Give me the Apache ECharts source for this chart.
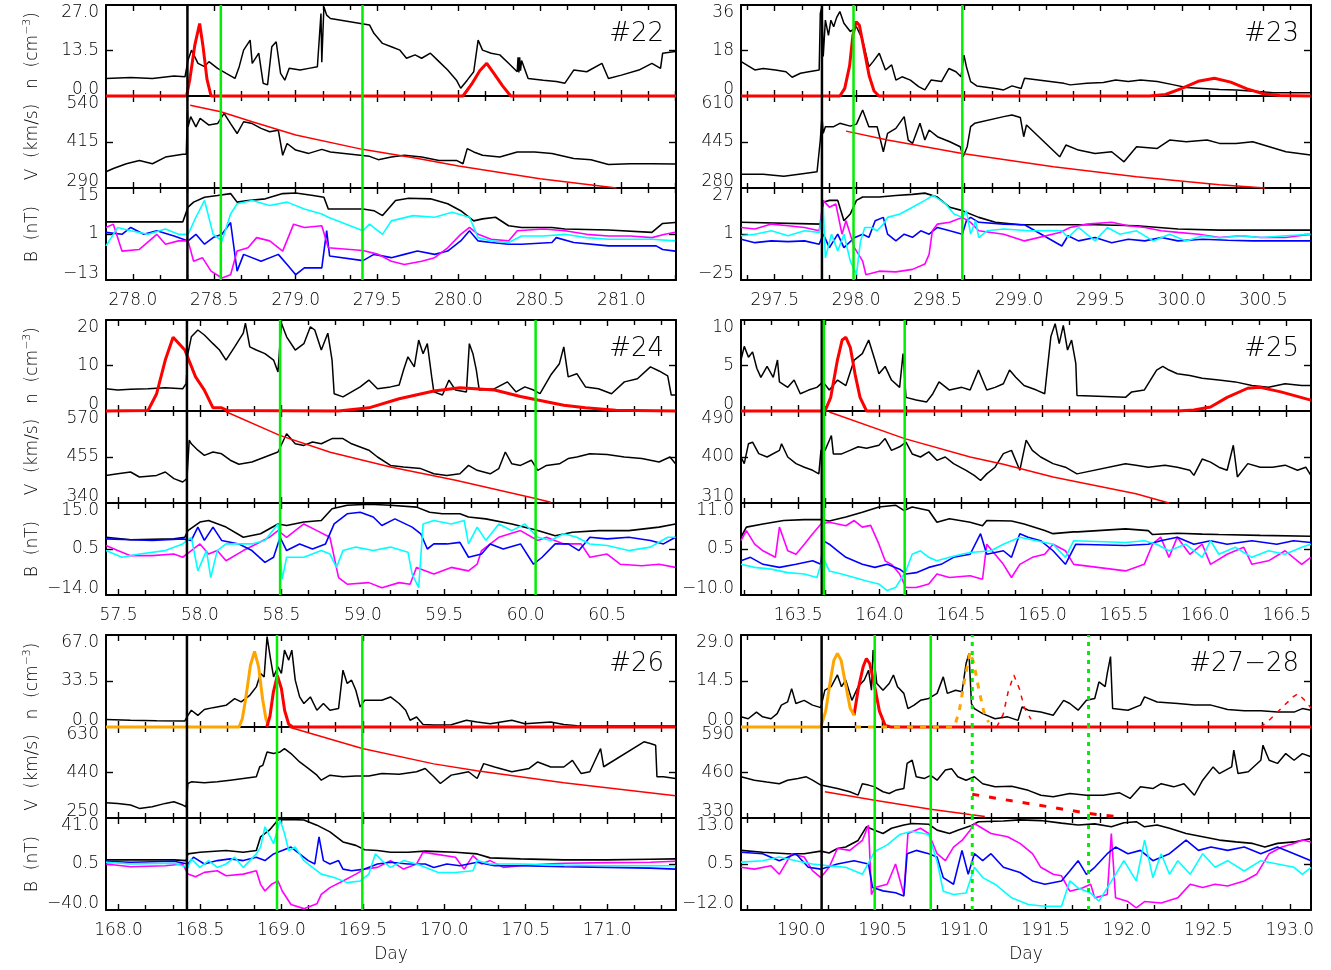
<!DOCTYPE html>
<html><head><meta charset="utf-8">
<script src="https://cdn.jsdelivr.net/npm/echarts@6.0.0/dist/echarts.min.js"></script>
<style>html,body{margin:0;padding:0;background:#fff;}#c{width:1331px;height:970px;}</style>
</head><body><div id="c"></div>
<script>
// ---------------- Panel #22 ----------------
const range22 = [277.835, 281.335];
const ticks22 = [278.0, 278.5, 279.0, 279.5, 280.0, 280.5, 281.0];
const shock22 = 278.335;
const green22 = [278.54, 279.41];
const n22 = [[277.835,5.2],[277.987,5.5],[278.12,5.2],[278.253,5.9],[278.32,5.7],[278.339,10.7],[278.36,13.6],[278.4,9.7],[278.44,8.7],[278.467,10.2],[278.52,8.2],[278.573,6.7],[278.627,5.2],[278.653,8.7],[278.68,13.6],[278.72,16.6],[278.733,9.7],[278.773,12.7],[278.8,3.8],[278.827,3.3],[278.853,14.6],[278.88,16.1],[278.907,6.7],[278.933,4.7],[278.96,8.2],[279.027,7.7],[279.08,8.2],[279.133,8.7],[279.155,24.5],[279.16,10],[279.173,26.5],[279.19,24],[279.213,23],[279.453,21.1],[279.48,18.6],[279.533,15.6],[279.587,14.6],[279.64,13.6],[279.68,11.2],[279.733,12.2],[279.773,11.2],[279.827,12.7],[279.88,10.2],[279.933,7.7],[279.987,4.7],[280.013,2.3],[280.053,4.7],[280.093,7.2],[280.12,16.6],[280.147,13.6],[280.2,12.7],[280.253,12.2],[280.307,9.7],[280.36,7.2],[280.365,11.5],[280.37,7.0],[280.375,11.5],[280.38,7.5],[280.387,10.5],[280.427,5.2],[280.52,4.7],[280.6,4.3],[280.653,3.8],[280.707,7.7],[280.787,7.2],[280.88,9.7],[280.92,5.2],[281.0,6.2],[281.107,7.7],[281.187,9.7],[281.24,8.2],[281.253,12.7],[281.33,13.2]];
const nFit22 = [[277.835,0],[278.33,0],[278.35,5],[278.38,15],[278.41,21.5],[278.43,15],[278.455,5],[278.48,0],[280.027,0],[280.08,3.5],[280.13,7.5],[280.173,9.7],[280.22,6.5],[280.27,3],[280.32,0],[281.335,0]];
const v22 = [[277.835,334],[277.88,343],[277.96,356],[278.04,365],[278.12,356],[278.2,374],[278.307,382],[278.328,382],[278.335,502],[278.339,456],[278.355,484],[278.387,456],[278.413,479],[278.467,461],[278.52,465],[278.56,493],[278.6,465],[278.64,438],[278.68,470],[278.733,465],[278.787,452],[278.84,443],[278.893,447],[278.92,379],[278.947,411],[279.0,393],[279.08,384],[279.16,395],[279.213,388],[279.453,376],[279.507,367],[279.587,374],[279.667,379],[279.773,374],[279.88,365],[279.987,365],[280.027,356],[280.053,397],[280.093,388],[280.147,379],[280.253,374],[280.36,388],[280.467,388],[280.573,384],[280.707,370],[280.813,367],[280.92,354],[281.053,356],[281.187,356],[281.33,355]];
const vFit22 = [[278.352,515],[278.54,497],[278.733,470],[279.0,434],[279.41,395],[279.75,370],[280.0,350],[280.5,315],[280.97,290]];
const bt22 = [[277.835,4.7],[278.307,4.7],[278.339,9.2],[278.373,10.7],[278.44,12.2],[278.52,12.7],[278.6,13.3],[278.64,10.7],[278.707,11.2],[278.813,11.7],[278.92,13.3],[279.0,13.5],[279.107,12.7],[279.173,12.2],[279.2,8.6],[279.413,8.6],[279.48,8.1],[279.533,6.6],[279.613,11.2],[279.693,11.9],[279.827,11.7],[279.933,10.2],[280.013,8.1],[280.093,5.0],[280.147,5.6],[280.227,6.1],[280.307,3.5],[280.387,3.0],[280.573,3.0],[280.653,2.5],[280.92,2.2],[281.187,1.5],[281.253,4.2],[281.33,4.5]];
const bBlue22 = [[277.835,1.5],[277.933,0.9],[277.987,3.0],[278.067,0.9],[278.147,2.0],[278.253,0.4],[278.339,-1.1],[278.387,0.9],[278.44,-2.1],[278.493,-0.1],[278.547,0.9],[278.6,4.5],[278.64,-10.3],[278.68,-5.2],[278.787,-7.3],[278.893,-5.2],[278.947,-8.3],[279.0,-11.4],[279.053,-9.3],[279.16,-9.3],[279.19,2.0],[279.208,-5.7],[279.413,-7.1],[279.48,-5.2],[279.587,-6.2],[279.667,-5.2],[279.747,-4.2],[279.853,-5.2],[279.933,-4.2],[280.013,-1.1],[280.067,2.0],[280.12,-1.1],[280.2,-1.6],[280.307,-2.1],[280.387,-2.1],[280.573,-1.6],[280.6,-0.1],[280.707,-1.6],[280.92,-2.6],[281.053,-2.6],[281.213,-2.6],[281.253,-3.7],[281.33,-4.2]];
const bCyan22 = [[277.835,-2.6],[277.907,3.0],[277.987,2.0],[278.093,0.9],[278.2,2.5],[278.28,0.9],[278.339,0.9],[278.387,6.1],[278.44,11.2],[278.493,0.9],[278.547,-1.1],[278.6,7.1],[278.64,10.2],[278.733,11.2],[278.84,9.7],[278.947,10.7],[279.053,8.6],[279.16,7.1],[279.2,6.1],[279.413,2.0],[279.453,4.0],[279.533,0.9],[279.587,5.0],[279.72,6.6],[279.853,6.1],[279.96,7.6],[280.067,6.1],[280.12,-0.1],[280.2,-1.1],[280.307,-1.6],[280.387,0.4],[280.52,0.4],[280.653,0.9],[280.787,-0.1],[280.92,-0.6],[281.187,-0.6],[281.33,-1.1]];
const bMag22 = [[277.835,3.0],[277.88,4.0],[277.933,-4.2],[278.04,-3.7],[278.147,0.9],[278.2,-2.1],[278.28,-1.1],[278.339,-1.1],[278.373,-7.3],[278.427,-6.2],[278.48,-10.3],[278.547,-12.4],[278.6,-11.4],[278.64,-4.2],[278.707,-3.2],[278.76,-0.1],[278.84,-1.1],[278.92,-4.2],[278.987,4.0],[279.053,3.0],[279.16,3.5],[279.2,-3.2],[279.413,-4.0],[279.507,-5.2],[279.587,-7.3],[279.667,-8.3],[279.773,-7.3],[279.853,-6.2],[279.933,-3.2],[280.013,0.9],[280.067,3.0],[280.12,0.9],[280.2,-0.6],[280.307,-1.1],[280.36,2.0],[280.52,2.5],[280.653,2.0],[280.787,0.9],[280.92,0.4],[281.053,0.4],[281.187,-0.1],[281.267,0.9],[281.33,1.5]];

// ---------------- Panel #23 ----------------
const range23 = [297.293, 300.793];
const ticks23 = [297.5, 298.0, 298.5, 299.0, 299.5, 300.0, 300.5];
const shock23 = 297.79;
const green23 = [297.984, 298.652];
const n23 = [[297.294,13.6],[297.327,12.3],[297.378,10.3],[297.429,10.9],[297.505,10.3],[297.569,9.6],[297.607,7.4],[297.658,9.0],[297.709,9.6],[297.773,10.3],[297.78,32.7],[297.79,35.3],[297.798,15.6],[297.811,30],[297.83,24],[297.845,30],[297.862,27.4],[297.88,31],[297.9,33.4],[297.925,28.8],[297.964,25.5],[298.002,27.4],[298.04,22.2],[298.078,11.6],[298.104,13.6],[298.142,16.9],[298.18,10.3],[298.218,12.3],[298.244,6.3],[298.282,7.6],[298.333,6.3],[298.384,3.7],[298.422,2.4],[298.46,6.3],[298.524,5.7],[298.57,10.9],[298.613,9.6],[298.644,7.6],[298.662,16.2],[298.677,11.6],[298.703,5.7],[298.741,4.0],[298.855,3.0],[298.906,2.4],[298.957,4.0],[299.013,3.0],[299.034,7.0],[299.276,5.0],[299.314,4.4],[299.416,5.0],[299.518,5.3],[299.594,6.3],[299.671,5.7],[299.747,6.3],[299.849,5.7],[299.951,4.4],[300.027,3.4],[300.129,3.0],[300.231,2.6],[300.333,2.4],[300.486,1.7],[300.562,1.3],[300.79,1.3]];
const nFit23 = [[297.294,0],[297.9,0],[297.93,3],[297.96,12],[297.98,24],[298.0,29.4],[298.02,28],[298.05,18],[298.08,8],[298.11,2],[298.14,0],[299.8,0],[299.9,0.6],[300.0,3.0],[300.1,5.8],[300.2,7.0],[300.3,5.5],[300.4,2.8],[300.5,0.9],[300.6,0.2],[300.79,0]];
const v23 = [[297.294,329],[297.429,329],[297.556,322],[297.683,332],[297.76,338],[297.78,452],[297.79,536],[297.798,476],[297.811,500],[297.862,500],[297.9,512],[297.964,502],[298.002,509],[298.04,560],[298.078,500],[298.129,500],[298.167,410],[298.193,476],[298.244,494],[298.295,536],[298.32,452],[298.346,440],[298.392,512],[298.422,452],[298.448,488],[298.499,464],[298.575,446],[298.639,428],[298.657,392],[298.682,428],[298.703,500],[298.728,512],[298.906,536],[298.957,542],[299.008,533],[299.029,464],[299.046,506],[299.25,392],[299.288,434],[299.365,416],[299.467,404],[299.569,410],[299.645,374],[299.696,410],[299.722,428],[299.849,422],[299.925,452],[300.027,446],[300.155,452],[300.231,440],[300.333,440],[300.435,446],[300.537,428],[300.639,410],[300.79,398]];
const vFit23 = [[297.938,484],[298.193,452],[298.652,404],[299.212,356],[299.722,320],[300.231,292],[300.511,280]];
const bt23 = [[297.294,7.6],[297.785,6.6],[297.798,19.0],[297.836,20],[297.887,20],[297.925,8.5],[297.964,12.3],[298.002,20],[298.04,21.9],[298.142,21.9],[298.244,22.8],[298.346,23.4],[298.422,24.1],[298.499,21.9],[298.575,16.1],[298.652,14.2],[298.753,10.4],[298.855,7.6],[299.008,6.2],[299.467,6.2],[299.722,5.7],[299.976,3.8],[300.231,3.2],[300.79,3.2]];
const bBlue23 = [[297.294,-2.0],[297.378,-3.9],[297.48,-2.9],[297.582,-3.3],[297.683,-2.9],[297.773,-4.8],[297.798,0.9],[297.836,-6.7],[297.887,0.9],[297.925,-6.7],[297.989,-1.1],[298.04,0.9],[298.078,-0.9],[298.117,8.5],[298.167,10.4],[298.193,0.9],[298.244,-2.9],[298.295,0.9],[298.346,-0.9],[298.397,2.8],[298.448,0.9],[298.499,4.7],[298.575,2.8],[298.652,0.9],[298.677,8.5],[298.703,10.4],[298.753,7.6],[298.906,6.6],[299.034,6.2],[299.263,-5.8],[299.301,0],[299.365,-2.9],[299.467,-1],[299.569,-3.9],[299.671,-2],[299.773,-2.9],[299.874,-1],[299.976,-2.9],[300.129,-2],[300.282,-2.5],[300.435,-2.9],[300.79,-2.9]];
const bCyan23 = [[297.294,0],[297.378,0.9],[297.48,2.8],[297.582,0],[297.683,2.8],[297.773,1.9],[297.798,16.1],[297.811,-12.4],[297.849,0.9],[297.887,-8.6],[297.925,0.9],[297.964,-14.3],[298.002,-22],[298.027,-2.9],[298.053,4.7],[298.091,4.7],[298.129,2.8],[298.167,6.6],[298.193,10.4],[298.269,12.3],[298.346,16.1],[298.422,20],[298.473,22.8],[298.55,18.0],[298.601,12.3],[298.652,10.4],[298.677,14.2],[298.703,0.9],[298.733,8.5],[298.753,-1],[298.804,2.8],[298.906,3.8],[299.059,2.8],[299.263,2.8],[299.301,-1],[299.365,4.7],[299.467,-2.9],[299.543,4.7],[299.62,0.9],[299.722,2.8],[299.824,-2.9],[299.925,0.9],[300.027,-2.9],[300.129,0],[300.231,-1.3],[300.359,0],[300.486,-1],[300.639,0],[300.79,0.9]];
const bMag23 = [[297.294,4.7],[297.378,3.8],[297.48,6.6],[297.582,5.7],[297.683,4.7],[297.773,2.8],[297.798,20],[297.836,16.1],[297.875,18],[297.913,0.9],[297.938,8.5],[297.989,-6.7],[298.04,-14.3],[298.06,-22],[298.142,-20],[298.244,-20.4],[298.346,-19],[298.422,-16],[298.448,-10.5],[298.468,2.8],[298.499,6.6],[298.575,7.6],[298.652,10.4],[298.703,7.6],[298.753,2.8],[298.906,0.9],[299.034,-2.9],[299.25,1.9],[299.314,4.7],[299.416,6.6],[299.569,7.6],[299.671,5.7],[299.773,4.7],[299.874,2.8],[299.976,1.9],[300.104,0.9],[300.231,-1],[300.359,0],[300.486,-1],[300.639,-1],[300.79,0.9]];

// ---------------- Panel #24 ----------------
const range24 = [57.423, 60.923];
const ticks24 = [57.5, 58.0, 58.5, 59.0, 59.5, 60.0, 60.5];
const shock24 = 57.92;
const green24 = [58.492, 60.061];
const n24 = [[57.423,4.9],[57.495,4.6],[57.574,4.8],[57.681,4.9],[57.787,5.1],[57.894,4.9],[57.915,6.0],[57.926,12.6],[57.947,16.3],[57.987,17.8],[58.027,16.7],[58.08,14.8],[58.12,13.4],[58.16,11.2],[58.213,14.1],[58.266,17.1],[58.279,19.3],[58.306,14.1],[58.346,13.4],[58.399,12.6],[58.452,11.2],[58.479,8.6],[58.5,19.3],[58.532,16.3],[58.585,13.4],[58.638,14.8],[58.678,18.5],[58.705,17.8],[58.745,13.4],[58.785,17.1],[58.811,11.2],[58.824,3.8],[58.878,3.1],[58.931,4.2],[58.984,5.3],[59.037,6.8],[59.09,4.9],[59.17,5.3],[59.223,5.7],[59.25,9.0],[59.277,11.9],[59.316,9.7],[59.343,15.6],[59.37,12.6],[59.396,14.8],[59.423,7.5],[59.436,4.2],[59.489,3.5],[59.529,6.8],[59.569,4.6],[59.636,4.2],[59.654,14.8],[59.676,12.6],[59.697,9.0],[59.715,4.6],[59.809,4.9],[59.888,6.4],[59.941,4.2],[59.995,5.3],[60.048,4.6],[60.088,3.8],[60.154,7.9],[60.207,10.4],[60.234,14.1],[60.261,7.5],[60.314,8.2],[60.367,5.3],[60.447,4.9],[60.527,3.8],[60.606,6.4],[60.686,7.1],[60.766,9.7],[60.819,8.8],[60.872,7.7],[60.894,3.5],[60.92,3.5]];
const nFit24 = [[57.423,0],[57.681,0.1],[57.734,3.8],[57.787,11.2],[57.835,16.2],[57.907,13.4],[57.973,7.5],[58.027,4.6],[58.08,0.7],[58.133,0.7],[58.17,0.1],[58.851,0],[59.037,0.7],[59.223,2.7],[59.436,4.4],[59.596,5.1],[59.809,4.6],[59.968,3.2],[60.074,2.4],[60.234,1.25],[60.367,0.7],[60.553,0.15],[60.92,0]];
const v24 = [[57.423,409],[57.495,413],[57.574,417.5],[57.628,405],[57.734,409],[57.787,417.5],[57.84,401],[57.894,392.5],[57.92,401],[57.934,497],[57.947,488],[57.987,472],[58.027,459],[58.08,467.5],[58.133,463],[58.186,447],[58.239,437],[58.319,442.5],[58.399,455],[58.479,467.5],[58.532,513],[58.585,488],[58.638,484],[58.691,492.5],[58.745,488],[58.811,501],[58.878,501],[58.931,488],[58.984,480],[59.037,472],[59.09,455],[59.17,434],[59.25,430],[59.356,426],[59.436,413],[59.516,409],[59.596,413],[59.649,434],[59.702,421.7],[59.782,413],[59.835,426],[59.875,467.5],[59.915,438],[59.968,434],[60.035,447],[60.074,421.7],[60.128,434],[60.207,438],[60.261,451],[60.314,455],[60.394,463],[60.5,461],[60.606,455],[60.713,451],[60.819,442.5],[60.886,455],[60.92,438]];
const vFit24 = [[58.16,568],[58.49,509],[58.8,467],[59.17,430],[59.57,397],[60.06,351],[60.154,342]];
const bt24 = [[57.423,4.2],[57.574,3.4],[57.84,3.7],[57.907,4.2],[57.926,6.3],[58.0,9.0],[58.053,9.5],[58.16,7.4],[58.266,4.2],[58.372,5.3],[58.479,8.4],[58.532,7.9],[58.638,9.0],[58.745,9.5],[58.811,13.2],[58.904,14.3],[59.037,14.6],[59.17,14.3],[59.33,13.7],[59.41,12.1],[59.489,11.6],[59.596,11.6],[59.649,10.6],[59.755,10.0],[59.915,8.4],[60.074,6.3],[60.181,4.7],[60.287,5.8],[60.447,6.3],[60.633,6.3],[60.819,7.4],[60.92,8.4]];
const bBlue24 = [[57.423,3.7],[57.574,3.4],[57.707,3.2],[57.894,3.7],[57.947,3.2],[57.987,7.4],[58.027,3.2],[58.08,7.4],[58.133,3.2],[58.239,2.1],[58.319,0.0],[58.399,-3.7],[58.452,-2.1],[58.492,4.2],[58.532,0.0],[58.612,2.1],[58.691,0.5],[58.771,2.1],[58.824,8.4],[58.904,11.6],[58.984,12.1],[59.064,10.6],[59.117,7.9],[59.197,10.0],[59.303,7.4],[59.356,5.3],[59.396,0.5],[59.436,2.1],[59.516,2.1],[59.596,2.6],[59.649,-2.1],[59.729,-1.1],[59.782,2.1],[59.862,0.5],[59.968,2.1],[60.048,-4.3],[60.101,-2.1],[60.181,2.1],[60.261,2.1],[60.327,0.0],[60.394,4.2],[60.5,3.7],[60.633,4.2],[60.766,3.2],[60.846,2.1],[60.92,4.2]];
const bCyan24 = [[57.423,0.0],[57.521,-2.1],[57.628,-1.1],[57.787,0.0],[57.894,2.1],[57.947,4.2],[57.987,-6.4],[58.04,0.0],[58.066,-8.5],[58.106,0.0],[58.16,2.1],[58.319,2.1],[58.399,3.2],[58.479,8.4],[58.505,-9.0],[58.532,-2.1],[58.638,-2.1],[58.745,0.0],[58.798,-1.1],[58.838,-5.3],[58.878,0.0],[58.957,1.1],[59.064,0.0],[59.17,1.1],[59.277,-0.5],[59.303,-7.4],[59.343,-11.7],[59.37,8.4],[59.436,9.5],[59.543,8.4],[59.622,9.5],[59.649,2.1],[59.702,7.4],[59.755,3.2],[59.835,8.4],[59.915,6.3],[59.995,8.4],[60.074,4.2],[60.154,3.2],[60.234,5.3],[60.314,4.2],[60.394,2.1],[60.5,1.6],[60.633,0.0],[60.766,1.1],[60.872,4.2],[60.92,4.2]];
const bMag24 = [[57.423,1.6],[57.495,0.0],[57.574,-1.6],[57.707,-1.6],[57.84,-1.1],[57.894,-2.1],[57.947,0.0],[58.0,2.1],[58.053,-1.1],[58.106,0.0],[58.16,-3.2],[58.266,0.0],[58.346,2.1],[58.426,4.2],[58.479,6.3],[58.532,4.2],[58.638,8.4],[58.718,6.3],[58.798,4.2],[58.851,-8.5],[58.904,-10.6],[59.037,-10.1],[59.117,-11.7],[59.223,-10.1],[59.29,-10.6],[59.33,-5.3],[59.436,-7.4],[59.543,-5.3],[59.649,-6.4],[59.702,-4.3],[59.729,0.0],[59.835,4.2],[59.968,6.3],[60.074,3.2],[60.128,4.2],[60.234,2.1],[60.34,2.1],[60.394,-2.1],[60.5,-1.1],[60.58,-4.3],[60.713,-4.8],[60.819,-4.3],[60.92,-5.3]];

// ---------------- Panel #25 ----------------
const range25 = [163.149, 166.649];
const ticks25 = [163.5, 164.0, 164.5, 165.0, 165.5, 166.0, 166.5];
const shock25 = 163.645;
const green25 = [163.658, 164.154];
const n25 = [[163.149,5.6],[163.169,7.1],[163.195,5.9],[163.22,6.5],[163.246,4.7],[163.271,3.7],[163.309,4.9],[163.347,3.7],[163.373,5.6],[163.385,3.2],[163.436,2.6],[163.475,3.4],[163.513,1.9],[163.564,2.3],[163.615,2.6],[163.653,3.2],[163.691,2.3],[163.742,3.4],[163.793,2.8],[163.844,5.6],[163.894,6.3],[163.933,7.8],[163.971,5.6],[163.996,4.1],[164.034,4.9],[164.073,3.4],[164.123,2.6],[164.144,6.3],[164.162,1.5],[164.225,1.2],[164.289,1.0],[164.327,1.9],[164.365,3.2],[164.429,2.3],[164.505,2.6],[164.556,2.3],[164.607,4.5],[164.658,2.3],[164.709,2.6],[164.76,3.0],[164.798,4.5],[164.836,3.7],[164.887,2.8],[164.963,2.3],[165.014,1.9],[165.027,4.1],[165.052,8.2],[165.078,9.6],[165.103,7.4],[165.128,9.4],[165.154,6.7],[165.179,7.8],[165.205,5.2],[165.212,1.7],[165.51,1.5],[165.548,2.1],[165.625,2.3],[165.663,3.4],[165.701,4.5],[165.739,4.9],[165.777,4.5],[165.828,4.1],[165.905,3.9],[165.981,3.6],[166.083,3.4],[166.184,3.2],[166.286,2.8],[166.388,2.6],[166.49,3.0],[166.592,2.8],[166.648,2.8]];
const nFit25 = [[163.149,0],[163.665,0],[163.7,1.5],[163.74,5.5],[163.77,7.8],[163.793,8.1],[163.82,7],[163.85,4],[163.88,1.5],[163.92,0],[165.828,0],[165.93,0.1],[166.032,0.44],[166.134,1.5],[166.26,2.5],[166.337,2.6],[166.464,2.1],[166.648,1.2]];
const v25 = [[163.149,400],[163.169,387],[163.195,426],[163.22,429],[163.258,406.5],[163.309,400],[163.385,413],[163.398,426],[163.436,400],[163.487,387],[163.538,380],[163.589,374],[163.627,367],[163.64,413],[163.665,413],[163.704,442],[163.716,406],[163.767,406],[163.818,413],[163.869,420],[163.92,417],[163.996,423],[164.034,436],[164.073,413],[164.123,420],[164.162,429],[164.2,406],[164.251,400],[164.302,410],[164.352,393.5],[164.403,400],[164.454,387],[164.531,374],[164.581,364],[164.62,354],[164.658,367],[164.709,380],[164.76,406.5],[164.81,413],[164.861,374],[164.9,433],[164.938,413],[164.989,400],[165.065,387],[165.141,380],[165.212,367],[165.51,387],[165.574,384],[165.65,380],[165.752,384],[165.828,380],[165.905,374],[165.93,364],[165.981,396],[166.032,390],[166.083,380],[166.134,374],[166.172,423],[166.197,361],[166.261,387],[166.337,380],[166.413,380],[166.49,384],[166.566,374],[166.617,380],[166.648,364]];
const vFit25 = [[163.691,488],[164.154,436],[164.556,400],[164.76,386],[165.065,361],[165.574,328],[165.777,310]];
const bt25 = [[163.149,3.2],[163.182,5.5],[163.284,6.2],[163.411,7.0],[163.538,7.2],[163.64,7.2],[163.691,6.9],[163.793,7.8],[163.894,8.9],[163.996,10.1],[164.098,10.5],[164.149,9.3],[164.2,10.1],[164.302,9.3],[164.352,6.6],[164.429,7.4],[164.556,6.6],[164.632,5.8],[164.658,7.0],[164.81,6.9],[164.887,6.2],[165.014,4.7],[165.065,4.0],[165.192,4.4],[165.217,4.4],[165.51,5.1],[165.65,4.7],[165.676,3.8],[165.828,4.1],[165.981,3.9],[166.083,3.8],[166.337,3.6],[166.648,3.4]];
const bBlue25 = [[163.149,-2.2],[163.207,-1.4],[163.284,-3.0],[163.385,-3.7],[163.487,-3.0],[163.589,-2.2],[163.64,-3.0],[163.653,2.4],[163.691,1.6],[163.742,0.1],[163.793,-1.4],[163.894,-3.0],[163.971,-3.7],[164.047,-3.0],[164.123,-4.1],[164.162,-5.2],[164.225,-4.9],[164.302,-3.7],[164.378,-3.0],[164.454,-1.4],[164.556,-0.7],[164.62,4.0],[164.658,-0.7],[164.76,0.1],[164.81,-1.4],[164.861,4.0],[164.912,3.2],[164.989,2.4],[165.065,0.1],[165.141,-3.0],[165.205,1.6],[165.51,1.3],[165.65,1.6],[165.726,2.4],[165.828,3.2],[165.93,1.6],[166.032,2.4],[166.134,1.6],[166.286,2.4],[166.439,1.6],[166.541,2.4],[166.648,2.0]];
const bCyan25 = [[163.149,-3.0],[163.233,-3.7],[163.335,-4.1],[163.436,-4.9],[163.538,-5.2],[163.615,-6.0],[163.653,-1.4],[163.691,-4.5],[163.767,-5.2],[163.844,-6.0],[163.92,-6.8],[163.996,-7.5],[164.047,-9.0],[164.098,-8.3],[164.162,-4.5],[164.2,-0.7],[164.251,0.1],[164.302,-1.4],[164.352,-2.2],[164.429,-1.4],[164.505,-0.7],[164.556,-0.3],[164.683,0.1],[164.76,1.6],[164.861,3.2],[164.963,2.4],[165.065,1.6],[165.141,-1.4],[165.192,2.4],[165.51,2.0],[165.625,2.4],[165.701,1.6],[165.777,0.1],[165.879,1.6],[165.981,-1.4],[166.032,2.4],[166.083,-0.7],[166.184,0.9],[166.286,-1.4],[166.388,0.1],[166.49,-0.7],[166.592,0.9],[166.648,1.6]];
const bMag25 = [[163.149,2.4],[163.182,4.7],[163.233,1.6],[163.284,0.1],[163.36,-1.4],[163.385,5.5],[163.436,0.1],[163.487,-0.7],[163.538,1.6],[163.589,4.0],[163.64,6.2],[163.691,6.6],[163.793,5.8],[163.844,7.0],[163.894,5.5],[163.945,5.9],[163.996,1.6],[164.034,-2.2],[164.073,-3.0],[164.123,-5.2],[164.162,-8.3],[164.225,-8.3],[164.302,-7.5],[164.352,-5.2],[164.429,-6.0],[164.556,-5.6],[164.632,-6.4],[164.658,1.6],[164.76,-3.0],[164.81,-6.0],[164.861,-3.0],[164.938,-1.4],[165.014,-0.7],[165.065,1.6],[165.141,0.1],[165.192,-3.0],[165.51,-4.5],[165.625,-3.0],[165.676,1.6],[165.726,3.2],[165.777,-1.4],[165.828,3.2],[165.905,-0.7],[165.981,1.6],[166.032,-3.0],[166.134,-0.7],[166.236,0.9],[166.286,-3.0],[166.388,-2.2],[166.49,0.1],[166.592,-3.0],[166.648,-1.4]];

// ---------------- Panel #26 ----------------
const range26 = [167.923, 171.423];
const ticks26 = [168.0, 168.5, 169.0, 169.5, 170.0, 170.5, 171.0];
const shock26 = 168.42;
const green26 = [168.973, 169.497];
const n26 = [[167.923,5.4],[168.074,4.9],[168.234,4.6],[168.407,4.4],[168.426,8.5],[168.447,12.2],[168.487,8.5],[168.527,12.7],[168.58,14.1],[168.66,15.8],[168.713,20.7],[168.753,18.3],[168.806,23.1],[168.846,29.2],[168.872,39],[168.894,36.5],[168.912,65.8],[168.931,51.2],[168.952,36.5],[168.979,43.8],[169.0,39],[169.019,56],[169.045,48.7],[169.064,56],[169.085,34.1],[169.112,21.9],[169.138,17.1],[169.178,21.9],[169.218,12.2],[169.258,17.1],[169.298,12.2],[169.351,13.4],[169.378,41.4],[169.404,31.7],[169.431,34.1],[169.457,26.8],[169.484,14.6],[169.511,19.5],[169.564,19.5],[169.617,19.5],[169.67,21.9],[169.723,17.1],[169.763,12.2],[169.79,4.9],[169.83,7.3],[169.87,1.9],[169.936,1.5],[170.043,1.7],[170.136,4.9],[170.202,3.7],[170.282,2.4],[170.415,4.9],[170.495,2.4],[170.654,3.7],[170.734,1.9],[170.814,1.0],[171.0,0.7],[171.42,0.7]];
const nFitA26 = [[167.923,0],[168.74,0],[168.76,6],[168.78,20],[168.81,45],[168.835,55],[168.86,44],[168.885,20],[168.905,6],[168.92,1]];
const nFitB26 = [[168.91,0],[168.93,8],[168.95,25],[168.975,37.5],[169.0,28],[169.02,12],[169.045,2],[169.07,0],[171.42,0]];
const v26 = [[167.923,314],[167.995,311],[168.074,304],[168.128,290],[168.207,297],[168.287,311],[168.34,318],[168.394,304],[168.415,297],[168.426,394],[168.447,401],[168.527,397],[168.606,401],[168.686,408],[168.766,415],[168.846,422],[168.867,464],[168.886,470],[168.912,526],[168.952,519],[168.992,526],[169.019,540],[169.059,519],[169.112,484],[169.165,457],[169.218,429],[169.245,408],[169.298,429],[169.378,422],[169.457,425],[169.537,425],[169.617,436],[169.723,433],[169.83,443],[169.883,457],[169.936,422],[169.976,394],[170.043,429],[170.096,436],[170.149,443],[170.202,415],[170.242,477],[170.309,463],[170.415,443],[170.521,457],[170.574,484],[170.654,463],[170.734,463],[170.787,491],[170.84,436],[170.894,443],[170.96,540],[170.979,464],[171.226,568],[171.266,561],[171.298,554],[171.306,422],[171.346,422],[171.42,415]];
const vFit26 = [[169.045,630],[169.497,540],[169.936,476],[170.2,447],[170.734,397],[171.42,343]];
const bt26 = [[167.923,4.1],[168.34,4.1],[168.415,3.5],[168.426,9.4],[168.5,10.9],[168.66,12.4],[168.766,10.9],[168.846,12.4],[168.872,24.3],[168.926,30.3],[168.979,39.2],[169.032,39.8],[169.138,39.2],[169.218,34.7],[169.298,28.8],[169.378,19.9],[169.457,16.9],[169.511,13],[169.59,12.4],[169.67,10.9],[169.777,10.9],[169.883,11.8],[170.069,10.9],[170.202,9.4],[170.282,5.9],[170.468,5.0],[170.734,4.1],[171.0,4.1],[171.266,4.7],[171.42,5.0]];
const bBlue26 = [[167.923,2.9],[168.074,2.0],[168.34,2.9],[168.426,0.5],[168.46,6.5],[168.527,0.5],[168.606,3.5],[168.686,5.0],[168.766,3.5],[168.846,6.5],[168.899,3.5],[168.952,9.4],[169.005,12.4],[169.059,15.4],[169.112,9.4],[169.165,3.5],[169.205,0.5],[169.231,24.3],[169.258,3.5],[169.298,0.5],[169.351,3.5],[169.378,-4.0],[169.431,-5.4],[169.511,-4.0],[169.59,0.5],[169.67,2.0],[169.777,0.5],[169.883,0.5],[169.936,-2.5],[170.016,0.5],[170.096,-1.0],[170.202,2.0],[170.309,-1.0],[170.468,-1.0],[170.734,-1.9],[171.0,-2.5],[171.266,-3.1],[171.42,-4.0]];
const bCyan26 = [[167.923,2.0],[168.074,0.5],[168.34,1.1],[168.426,-2.5],[168.447,5.0],[168.5,-2.5],[168.553,3.5],[168.606,-2.5],[168.66,0.5],[168.713,6.5],[168.766,-2.5],[168.846,9.4],[168.872,15.4],[168.899,33.3],[168.952,18.4],[168.992,39.2],[169.019,27.3],[169.045,12.4],[169.085,15.4],[169.138,3.5],[169.191,-2.5],[169.245,-8.4],[169.324,-11.4],[169.404,-15.9],[169.484,-14.4],[169.537,-8.4],[169.577,9.4],[169.617,3.5],[169.67,-2.5],[169.75,3.5],[169.83,0.5],[169.91,-4.0],[169.963,-7.0],[170.069,-7.0],[170.176,-5.5],[170.202,3.5],[170.282,0.5],[170.468,0.5],[170.734,-0.4],[171.0,-1.0],[171.266,-1.0],[171.42,-1.0]];
const bMag26 = [[167.923,0.5],[168.074,-1.9],[168.287,-1.0],[168.394,0.5],[168.426,-8.4],[168.473,-10.7],[168.527,-6.9],[168.606,-5.4],[168.66,-9.9],[168.766,-8.4],[168.846,-5.4],[168.872,-17.4],[168.899,-23.3],[168.939,-17.4],[168.979,-14.4],[169.005,-23.3],[169.059,-35.2],[169.138,-38.8],[169.218,-34.6],[169.245,-26.3],[169.298,-20.3],[169.378,-14.4],[169.457,-8.4],[169.511,-4.0],[169.59,-2.5],[169.67,3.5],[169.75,-4.0],[169.83,0.5],[169.87,10.9],[169.936,9.4],[170.069,6.5],[170.122,-4.0],[170.176,7.9],[170.229,0.5],[170.282,3.5],[170.362,-2.5],[170.468,-1.0],[170.628,0.5],[170.734,1.1],[171.0,1.7],[171.266,2.0],[171.42,2.9]];

// ---------------- Panel #27-28 ----------------
const range2728 = [189.63, 193.13];
const ticks2728 = [190.0, 190.5, 191.0, 191.5, 192.0, 192.5, 193.0];
const shock2728 = 190.125;
const green2728 = [190.451, 190.795];
const greenDotted2728 = [191.05, 191.764];
const n2728 = [[189.63,3.2],[189.674,2.6],[189.725,4.7],[189.763,3.2],[189.814,2.6],[189.852,4.2],[189.878,6.9],[189.916,7.9],[189.941,12.1],[189.967,7.4],[190.018,8.4],[190.069,6.9],[190.12,6.1],[190.145,11.6],[190.184,12.7],[190.222,16.4],[190.247,12.7],[190.273,14.8],[190.311,8.4],[190.349,12.7],[190.387,14.8],[190.413,17.9],[190.431,11.6],[190.441,24.3],[190.464,13.7],[190.502,11.6],[190.54,13.7],[190.566,16.4],[190.591,12.7],[190.63,10.6],[190.655,5.8],[190.693,6.9],[190.732,8.4],[190.783,9.0],[190.834,10.6],[190.872,15.8],[190.897,10.6],[190.948,11.6],[190.987,11.1],[191.012,20],[191.03,23.2],[191.045,7.4],[191.063,5.8],[191.114,4.2],[191.19,2.6],[191.267,3.2],[191.331,2.1],[191.356,6.3],[191.394,5.3],[191.471,4.7],[191.547,3.7],[191.611,8.4],[191.649,7.4],[191.7,5.3],[191.751,8.4],[191.802,9.0],[191.828,14.2],[191.866,12.7],[191.879,16.9],[191.899,22.2],[191.912,5.8],[192.006,5.3],[192.083,6.9],[192.108,9.5],[192.185,7.9],[192.312,7.4],[192.414,6.9],[192.516,6.9],[192.618,5.5],[192.72,5.1],[192.822,5.1],[192.924,4.7],[193.026,4.7],[193.077,5.8],[193.13,5.3]];
const nFitA2728 = [[189.63,0],[190.12,0],[190.15,5],[190.18,15],[190.2,21],[190.222,23.2],[190.245,21],[190.27,14],[190.3,6],[190.324,3.7]];
const nFitA2728dash = [[190.33,0],[190.94,0],[190.97,5],[191.0,14],[191.037,23.7],[191.06,20],[191.09,12],[191.12,5],[191.15,1.5]];
const nFitB2728 = [[190.324,3.7],[190.35,12],[190.38,19],[190.4,21.6],[190.42,20],[190.45,13],[190.48,5],[190.515,0.5],[190.55,0],[193.13,0]];
const nFitB2728dashA = [[191.2,0],[191.24,4],[191.27,11],[191.305,16.4],[191.34,12],[191.37,6],[191.41,2.5]];
const nFitB2728dashB = [[192.82,0],[192.87,2],[192.95,6],[193.02,9.5],[193.05,10.5],[193.1,8],[193.13,6]];
const v2728 = [[189.63,447.7],[189.712,438],[189.788,433],[189.865,428],[189.916,438],[189.98,443],[190.031,447.7],[190.069,438],[190.12,424],[190.171,419],[190.222,414],[190.298,405],[190.349,395.5],[190.375,428],[190.413,424],[190.451,419],[190.502,405],[190.54,400],[190.579,409],[190.63,414],[190.65,486],[190.681,495],[190.706,448],[190.757,443],[190.795,452],[190.834,438],[190.885,467],[190.923,471],[190.961,448],[191.012,438],[191.063,448],[191.114,428],[191.19,419],[191.292,421],[191.394,409],[191.471,395],[191.547,391],[191.649,400],[191.751,395],[191.853,395],[191.955,402],[192.019,386],[192.083,419],[192.159,414],[192.21,428],[192.287,419],[192.35,428],[192.414,395],[192.465,438],[192.529,476],[192.567,457],[192.643,476],[192.656,524],[192.682,457],[192.745,462],[192.822,495],[192.835,538],[192.873,495],[192.924,486],[192.975,514],[193.026,495],[193.077,514],[193.13,505]];
const vFit2728 = [[190.145,405],[190.451,381],[190.795,355],[191.127,334]];
const vFit2728dash = [[191.05,398],[191.292,379],[191.547,360],[191.764,343],[191.93,334]];
const bt2728 = [[189.63,4.2],[189.763,3.7],[189.916,3.3],[190.018,3.3],[190.12,4.0],[190.171,3.5],[190.222,4.7],[190.273,5.1],[190.349,6.9],[190.4,10.6],[190.451,9.7],[190.502,8.8],[190.554,10.2],[190.63,11.1],[190.681,11.5],[190.783,11.3],[190.834,9.7],[190.91,8.8],[190.961,9.7],[191.037,10.8],[191.088,12.0],[191.241,12.2],[191.343,12.5],[191.471,12.3],[191.598,11.6],[191.7,11.1],[191.802,11.4],[191.904,10.6],[191.981,11.7],[192.057,12.0],[192.108,10.6],[192.185,11.1],[192.261,10.2],[192.363,8.8],[192.465,7.9],[192.567,7.0],[192.669,6.5],[192.771,6.1],[192.847,5.1],[192.924,6.1],[193.026,6.5],[193.13,7.4]];
const bBlue2728 = [[189.63,3.7],[189.763,3.3],[189.865,1.4],[189.967,3.3],[190.043,-0.4],[190.12,-0.9],[190.222,0.5],[190.324,1.4],[190.413,0.5],[190.438,-5.9],[190.502,-6.8],[190.579,-7.3],[190.63,-8.2],[190.65,3.3],[190.706,4.2],[190.783,3.3],[190.834,2.4],[190.872,-3.2],[190.935,-5.0],[190.987,4.2],[191.025,-2.3],[191.063,3.3],[191.114,1.4],[191.165,3.3],[191.241,-0.4],[191.343,-1.8],[191.42,-4.1],[191.496,-5.0],[191.598,-4.1],[191.649,-1.4],[191.7,1.4],[191.751,-2.3],[191.802,-0.4],[191.879,3.3],[191.93,5.1],[192.006,3.3],[192.083,4.2],[192.159,1.4],[192.261,3.3],[192.363,7.0],[192.439,4.2],[192.516,5.1],[192.618,4.2],[192.72,5.1],[192.822,3.3],[192.924,5.1],[193.026,3.3],[193.13,1.4]];
const bCyan2728 = [[189.63,1.0],[189.763,1.4],[189.865,2.4],[189.967,1.4],[190.069,0.5],[190.171,0.0],[190.273,-0.4],[190.375,-2.3],[190.451,3.9],[190.528,5.7],[190.604,8.5],[190.681,9.4],[190.783,8.5],[190.834,1.2],[190.872,-6.9],[190.935,-7.8],[191.012,-7.4],[191.063,-0.4],[191.114,-3.2],[191.19,-5.0],[191.292,-8.7],[191.394,-10.5],[191.496,-11.0],[191.598,-11.0],[191.649,-4.1],[191.7,-6.0],[191.777,-7.4],[191.828,-9.6],[191.879,-6.0],[191.93,-2.3],[191.981,1.4],[192.057,-4.1],[192.108,7.0],[192.159,-3.2],[192.21,3.3],[192.261,-2.3],[192.312,1.4],[192.388,-2.3],[192.465,3.3],[192.541,-0.4],[192.618,1.4],[192.72,-1.4],[192.822,1.4],[192.924,0.5],[193.026,-0.4],[193.077,-2.3],[193.13,-0.4]];
const bMag2728 = [[189.63,-0.4],[189.712,-0.9],[189.814,0.0],[189.865,-2.3],[189.941,3.3],[190.018,2.4],[190.069,-1.3],[190.12,-3.2],[190.171,-0.4],[190.222,4.7],[190.298,4.2],[190.375,6.9],[190.413,11.1],[190.431,-7.8],[190.451,-5.9],[190.528,-5.0],[190.579,0.5],[190.63,-7.8],[190.655,8.8],[190.732,10.2],[190.783,8.8],[190.834,3.3],[190.885,1.4],[190.935,5.1],[190.987,6.9],[191.037,9.7],[191.063,11.5],[191.165,8.8],[191.267,7.9],[191.343,6.1],[191.42,3.3],[191.471,-0.4],[191.547,-2.3],[191.598,-2.7],[191.649,-6.9],[191.726,-6.0],[191.777,-5.0],[191.802,-8.7],[191.879,-7.8],[191.904,8.8],[191.93,-8.7],[192.006,-9.7],[192.057,-11.4],[192.108,-9.7],[192.21,-10.1],[192.312,-8.7],[192.388,-5.0],[192.465,-5.9],[192.541,-5.0],[192.618,-5.5],[192.72,-4.1],[192.796,-2.3],[192.873,3.3],[192.95,5.1],[193.026,6.1],[193.077,7.0],[193.13,6.5]];

// ---------------- y-axis ticks / labels ----------------
const nTicks = {p22:[0,13.5,27], p23:[0,18,36], p24:[0,10,20], p25:[0,5,10], p26:[0,33.5,67], p2728:[0,14.5,29]};
const nLabels = {p22:['0.0','13.5','27.0'], p23:['0','18','36'], p24:['0','10','20'], p25:['0','5','10'], p26:['0.0','33.5','67.0'], p2728:['0.0','14.5','29.0']};
const vTicks = {p22:[290,415,540], p23:[280,445,610], p24:[340,455,570], p25:[310,400,490], p26:[250,440,630], p2728:[330,460,590]};
const vLabels = {p22:['290','415','540'], p23:['280','445','610'], p24:['340','455','570'], p25:['310','400','490'], p26:['250','440','630'], p2728:['330','460','590']};
const bTicks = {p22:[-13,1,15], p23:[-25,1,27], p24:[-14,0.5,15], p25:[-10,0.5,11], p26:[-40,0.5,41], p2728:[-12,0.5,13]};
const bLabels = {p22:['\u221213','1','15'], p23:['\u221225','1','27'], p24:['\u221214.0','0.5','15.0'], p25:['\u221210.0','0.5','11.0'], p26:['\u221240.0','0.5','41.0'], p2728:['\u221212.0','0.5','13.0']};
const panelNames = ['#22','#23','#24','#25','#26','#27\u221228'];

// ---------------- build ----------------
const FONT = "'DejaVu Sans', 'Liberation Sans', sans-serif";
const FW = 200;
const BLACK='#000000', RED='#ff0000', ORANGE='#ffa500', GREEN='#00ee00', BLUE='#0000ff', CYAN='#00ffff', MAGENTA='#ff00ff';
const LEFT = [106, 741], W = 570;
const ROWS = [[5,96,188,280],[320,411,503,595],[635,727,818,910]];
const WD = 1.5, WB = 1.6;

function L(d, c, w, extra){ return Object.assign({d:d, c:c, w:w}, extra||{}); }
const panels = [
  {key:'p22', col:0, row:0, x:range22, xt:ticks22, shock:shock22, green:green22, dotted:[],
   n:[L(n22,BLACK,WD), L(nFit22,RED,3,{clip:false})],
   v:[L(v22,BLACK,WD), L(vFit22,RED,1.5,{clip:false})],
   b:[L(bt22,BLACK,WB), L(bBlue22,BLUE,WB), L(bMag22,MAGENTA,WB), L(bCyan22,CYAN,WB)]},
  {key:'p23', col:1, row:0, x:range23, xt:ticks23, shock:shock23, green:green23, dotted:[],
   n:[L(n23,BLACK,WD), L(nFit23,RED,3,{clip:false})],
   v:[L(v23,BLACK,WD), L(vFit23,RED,1.5,{clip:false})],
   b:[L(bt23,BLACK,WB), L(bBlue23,BLUE,WB), L(bMag23,MAGENTA,WB), L(bCyan23,CYAN,WB)]},
  {key:'p24', col:0, row:1, x:range24, xt:ticks24, shock:shock24, green:green24, dotted:[],
   n:[L(n24,BLACK,WD), L(nFit24,RED,3,{clip:false})],
   v:[L(v24,BLACK,WD), L(vFit24,RED,1.5,{clip:false})],
   b:[L(bt24,BLACK,WB), L(bMag24,MAGENTA,WB), L(bBlue24,BLUE,WB), L(bCyan24,CYAN,WB)]},
  {key:'p25', col:1, row:1, x:range25, xt:ticks25, shock:shock25, green:green25, dotted:[],
   n:[L(n25,BLACK,WD), L(nFit25,RED,3,{clip:false})],
   v:[L(v25,BLACK,WD), L(vFit25,RED,1.5,{clip:false})],
   b:[L(bt25,BLACK,WB), L(bMag25,MAGENTA,WB), L(bBlue25,BLUE,WB), L(bCyan25,CYAN,WB)]},
  {key:'p26', col:0, row:2, x:range26, xt:ticks26, shock:shock26, green:green26, dotted:[],
   n:[L(n26,BLACK,WD), L(nFitA26,ORANGE,3,{clip:false}), L(nFitB26,RED,3,{clip:false})],
   v:[L(v26,BLACK,WD), L(vFit26,RED,1.5,{clip:false})],
   b:[L(bt26,BLACK,WB), L(bMag26,MAGENTA,WB), L(bBlue26,BLUE,WB), L(bCyan26,CYAN,WB)]},
  {key:'p2728', col:1, row:2, x:range2728, xt:ticks2728, shock:shock2728, green:green2728, dotted:greenDotted2728,
   n:[L(n2728,BLACK,WD), L(nFitB2728,RED,3,{clip:false}), L(nFitA2728dash,ORANGE,3,{clip:false,type:[6,7]}), L(nFitA2728,ORANGE,3,{clip:false}),
      L(nFitB2728dashA,RED,1.5,{clip:false,type:[5,6]}), L(nFitB2728dashB,RED,1.5,{clip:false,type:[5,6]})],
   v:[L(v2728,BLACK,WD), L(vFit2728,RED,1.5,{clip:false}), L(vFit2728dash,RED,3,{clip:false,type:[7,10]})],
   b:[L(bt2728,BLACK,WB), L(bMag2728,MAGENTA,WB), L(bBlue2728,BLUE,WB), L(bCyan2728,CYAN,WB)]}
];

// minor ticks every 4 hours (1/6 day), majors every 0.5 day
function minorTicks(r){ const out=[]; for(let k=Math.ceil(r[0]*6-1e-9); k<=Math.floor(r[1]*6+1e-9); k++){ if(k%3!==0) out.push(k/6);} return out; }

const option = {animation:false, backgroundColor:'#ffffff', grid:[], xAxis:[], yAxis:[], series:[], graphic:[]};
const axLine = {show:true, onZero:false, lineStyle:{color:BLACK, width:2}};
const noLine = {show:false, onZero:false};
const tickStyle = {color:BLACK, width:1.4};

panels.forEach((p, pi) => {
  const left = LEFT[p.col], tops = ROWS[p.row];
  const subs = [
    {lines:p.n, ticks:nTicks[p.key], labels:nLabels[p.key], name:'{a|n  (cm}{s|\u22123}{a|)}'},
    {lines:p.v, ticks:vTicks[p.key], labels:vLabels[p.key], name:'{a|V  (km/s)}'},
    {lines:p.b, ticks:bTicks[p.key], labels:bLabels[p.key], name:'{a|B  (nT)}'}
  ];
  const minor = minorTicks(p.x);
  subs.forEach((s, k) => {
    const gi = option.grid.length;
    option.grid.push({left:left, top:tops[k], width:W, height:tops[k+1]-tops[k]});
    const isB = (k===2);
    const xi = option.xAxis.length;
    const xb = {type:'value', gridIndex:gi, min:p.x[0], max:p.x[1], splitLine:{show:false}};
    option.xAxis.push(Object.assign({}, xb, {position:'bottom', axisLine:axLine,
      axisTick:{show:true, inside:true, length:6, customValues:p.xt, lineStyle:tickStyle},
      axisLabel:{show:isB, customValues:p.xt, formatter:(v)=>Number(v).toFixed(1), margin:12, fontSize:17, color:BLACK, fontFamily:FONT, fontWeight:FW},
      name:(isB && p.row===2)?'Day':'', nameLocation:'middle', nameGap:36,
      nameTextStyle:{fontSize:17, color:BLACK, fontFamily:FONT, fontWeight:FW}}));
    option.xAxis.push(Object.assign({}, xb, {position:'bottom', axisLine:noLine,
      axisTick:{show:true, inside:true, length:5, customValues:minor, lineStyle:tickStyle}, axisLabel:{show:false}}));
    option.xAxis.push(Object.assign({}, xb, {position:'top', axisLine:axLine,
      axisTick:{show:true, inside:true, length:6, customValues:p.xt, lineStyle:tickStyle}, axisLabel:{show:false}}));
    option.xAxis.push(Object.assign({}, xb, {position:'top', axisLine:noLine,
      axisTick:{show:true, inside:true, length:5, customValues:minor, lineStyle:tickStyle}, axisLabel:{show:false}}));
    const yi = option.yAxis.length;
    const t = s.ticks, lab = s.labels;
    const fmt = (v) => {
      let idx = 0, best = 1e9;
      t.forEach((tv, j) => { const d = Math.abs(tv - v); if (d < best) { best = d; idx = j; } });
      const style = idx===0 ? 'b' : (idx===2 ? 't' : 'm');
      return '{' + style + '|' + lab[idx] + '}';
    };
    const base = {fontSize:17, color:BLACK, fontFamily:FONT, fontWeight:FW};
    const labRich = {
      t:Object.assign({padding:[15,0,0,0]}, base),
      m:Object.assign({}, base),
      b:Object.assign({padding:[0,0,12,0]}, base)
    };
    const yb = {type:'value', gridIndex:gi, min:t[0], max:t[2], splitLine:{show:false}};
    option.yAxis.push(Object.assign({}, yb, {position:'left', axisLine:axLine,
      axisTick:{show:true, inside:true, length:7, customValues:[t[1]], lineStyle:tickStyle},
      axisLabel:{show:true, customValues:t, formatter:fmt, rich:labRich, margin:7, fontSize:17, color:BLACK, fontFamily:FONT, fontWeight:FW},
      name:(p.col===0)? s.name : '', nameLocation:'middle', nameRotate:90, nameGap:62,
      nameTextStyle:{rich:{a:{fontSize:17, color:BLACK, fontFamily:FONT, fontWeight:FW, lineHeight:22}, s:{fontSize:11, color:BLACK, fontFamily:FONT, fontWeight:FW, verticalAlign:'top', lineHeight:22}}}}));
    option.yAxis.push(Object.assign({}, yb, {position:'right', axisLine:axLine,
      axisTick:{show:true, inside:true, length:7, customValues:[t[1]], lineStyle:tickStyle}, axisLabel:{show:false}}));
    s.lines.forEach((l, j) => {
      option.series.push({type:'line', xAxisIndex:xi, yAxisIndex:yi, data:l.d, showSymbol:false, symbol:'none',
        clip: l.clip===false ? false : true, z: (l.c===BLACK && j===0) ? 2 : 3,
        lineStyle:{color:l.c, width:l.w, type:l.type||'solid'}, silent:true});
    });
    const vline = (xv, c, w, type) => option.series.push({type:'line', xAxisIndex:xi, yAxisIndex:yi,
      data:[[xv, t[0]],[xv, t[2]]], showSymbol:false, symbol:'none', z:5, silent:true,
      lineStyle:{color:c, width:w, type:type||'solid'}});
    vline(p.shock, BLACK, 2.5);
    p.green.forEach(g => vline(g, GREEN, 2.5));
    p.dotted.forEach(g => vline(g, GREEN, 3, [4,5]));
  });
  option.graphic.push({type:'text', x:left + W - 12, y:tops[0] + 29, z:10,
    style:{text:panelNames[pi], fontSize:26, fontFamily:FONT, fontWeight:FW, fill:BLACK, align:'right', verticalAlign:'middle'}});
});

const chart = echarts.init(document.getElementById('c'), null, {renderer:'canvas'});
chart.setOption(option);
</script>
</body></html>
